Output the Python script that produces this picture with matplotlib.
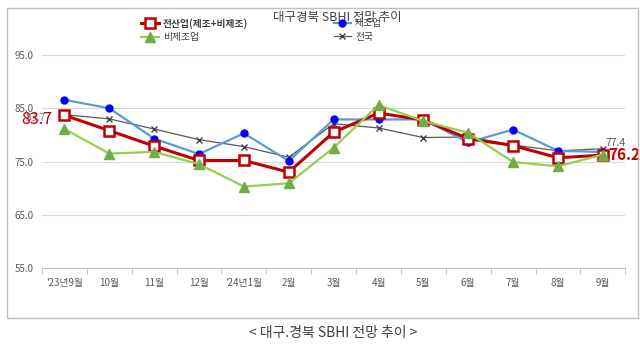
import matplotlib
matplotlib.use('Agg')
import matplotlib.pyplot as plt
from matplotlib.patches import Rectangle

plt.rcParams['font.family'] = ['Noto Sans CJK KR', 'DejaVu Sans']

# data
months = ["'23년9월", '10월', '11월', '12월', "'24년1월", '2월', '3월',
          '4월', '5월', '6월', '7월', '8월', '9월']
all_ind = [83.7, 80.8, 77.9, 75.2, 75.2, 73.0, 80.5, 84.1, 82.8, 79.3, 78.0, 75.7, 76.2]
manuf = [86.6, 85.0, 79.3, 76.4, 80.3, 75.1, 82.9, 82.9, 82.9, 78.6, 81.0, 77.0, 76.8]
non_manuf = [81.1, 76.5, 76.8, 74.5, 70.3, 70.9, 77.6, 85.6, 82.6, 80.4, 74.9, 74.1, 76.3]
national = [83.8, 83.0, 81.1, 79.1, 77.8, 75.8, 82.1, 81.3, 79.5, 79.6, 78.1, 77.0, 77.4]

fig = plt.figure(figsize=(6.4, 3.46), dpi=100)
ax = fig.add_axes([0.0656, 0.2254, 0.9114, 0.6156])

# outer chart frame
fig.patches.append(Rectangle((0.011, 0.081), 0.986, 0.896, transform=fig.transFigure,
                             fill=False, edgecolor='#bfbfbf', linewidth=1.0))

x = list(range(len(months)))
l1, = ax.plot(x, all_ind, color='#c00000', lw=2.2, marker='s', ms=7,
              mfc='white', mec='#c00000', mew=1.8, zorder=4)
l2, = ax.plot(x, manuf, color='#5b9bd5', lw=1.6, marker='o', ms=5,
              mfc='#0000ff', mec='#0000ff', zorder=3)
l3, = ax.plot(x, non_manuf, color='#92d050', lw=1.6, marker='^', ms=6.5,
              mfc='#70ad47', mec='#70ad47', zorder=5)
l4, = ax.plot(x, national, color='#595959', lw=0.9, marker='x', ms=5,
              mec='#404040', zorder=2)

ax.set_xlim(-0.5, len(months) - 0.5)
ax.set_ylim(55, 95)
ax.set_yticks([55, 65, 75, 85, 95])
ax.set_yticklabels(['%.1f' % v for v in [55, 65, 75, 85, 95]])
ax.set_xticks(x)
ax.set_xticklabels(months)
ax.set_xticks([i + 0.5 for i in range(-1, len(months))], minor=True)
ax.tick_params(axis='x', which='major', length=0, pad=7, labelsize=7, colors='#595959')
ax.tick_params(axis='x', which='minor', length=4, color='#bfbfbf')
ax.tick_params(axis='y', length=0, pad=6, labelsize=7, colors='#595959')
ax.grid(axis='y', color='#d9d9d9', lw=0.8)
ax.set_axisbelow(True)
for s in ['left', 'right', 'top']:
    ax.spines[s].set_visible(False)
ax.spines['bottom'].set_color('#bfbfbf')

# data labels
ax.text(-0.42, all_ind[0] - 0.6, '%.1f' % all_ind[0], color='#7f7f7f', fontsize=7.5,
        ha='right', va='center', zorder=5)
ax.text(-0.27, all_ind[0] - 0.8, '%.1f' % all_ind[0], color='#c00000', fontsize=11.5,
        ha='right', va='center', zorder=6)
ax.text(12.05, national[-1] + 0.2, '%.1f' % national[-1], color='#595959', fontsize=7.5,
        ha='left', va='bottom')
ax.text(12.12, all_ind[-1], '%.1f' % all_ind[-1], color='#c00000', fontsize=11,
        fontweight='bold', ha='left', va='center')

fig.text(0.527, 0.948, '대구경북 SBHI 전망 추이', ha='center', va='center',
         fontsize=9, color='#404040')

# two-column legend, filled column-wise
leg = fig.legend([l1, l3, l2, l4], ['전산업(제조+비제조)', '비제조업', '제조업', '전국'],
                 loc='upper left', bbox_to_anchor=(0.215, 0.96), ncol=2,
                 frameon=False, fontsize=7, handlelength=1.8, handletextpad=0.4,
                 columnspacing=8.8, labelspacing=0.35, borderaxespad=0)
for t in leg.get_texts():
    t.set_color('#404040')
    if t.get_text().startswith('전산업'):
        t.set_fontweight('bold')

fig.text(0.52, 0.037, '< 대구.경북 SBHI 전망 추이 >', ha='center', va='center',
         fontsize=10, color='#404040')

fig.savefig('out.png', dpi=100)
